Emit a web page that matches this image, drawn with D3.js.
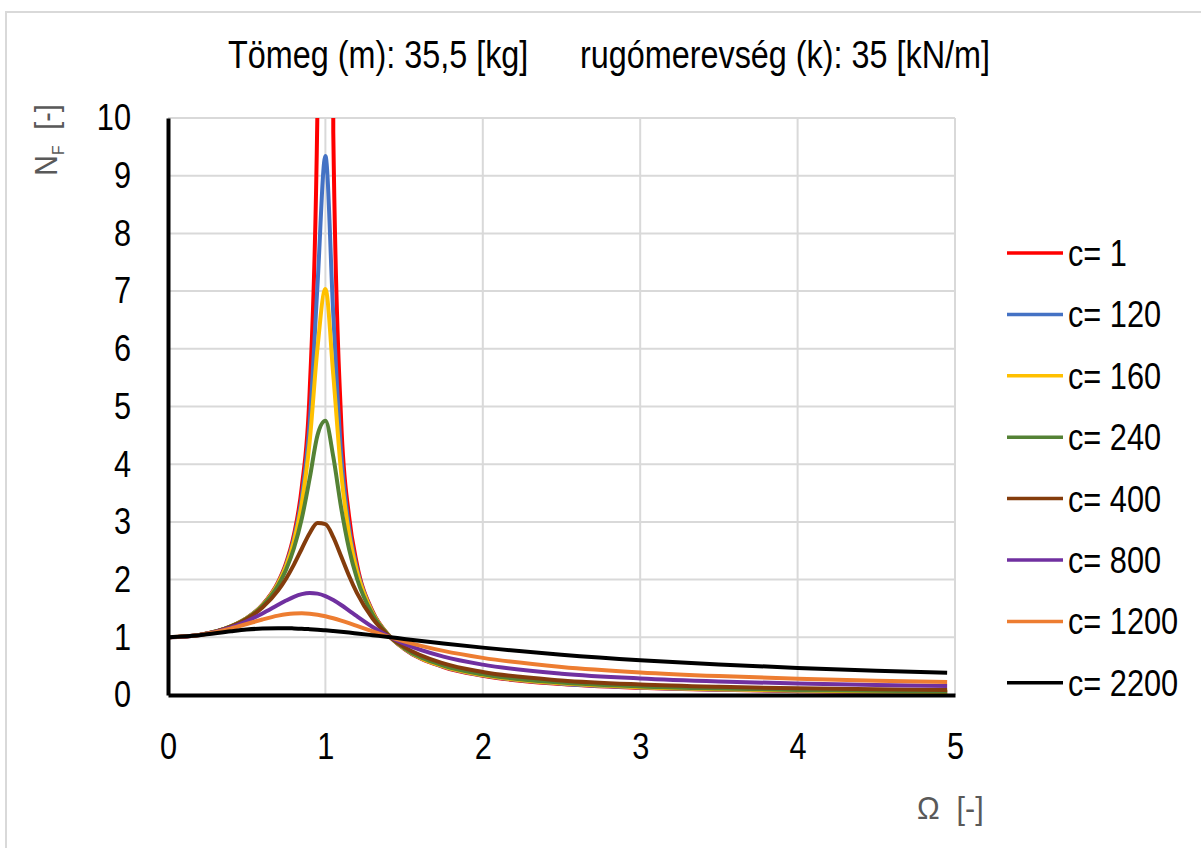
<!DOCTYPE html>
<html>
<head>
<meta charset="utf-8">
<script src="https://cdn.jsdelivr.net/npm/d3@7"></script>
<style>
  body { margin: 0; background: #fff; }
  svg text { font-family: "Liberation Sans", Arial, sans-serif; }
</style>
</head>
<body>
<div id="chart"></div>
<script>
// Omega values (x) shared by all series
const omega = [0, 0.2, 0.4, 0.5, 0.6, 0.7, 0.75, 0.8, 0.85, 0.9, 0.95, 1.0, 1.05, 1.1, 1.15, 1.2, 1.3, 1.4, 1.5, 1.75, 2.0, 2.5, 3.0, 3.5, 4.0, 4.5, 4.95];

// N_F values, one array per damping value
const nfC1 = [1, 1.042, 1.190, 1.333, 1.563, 1.961, 2.286, 2.778, 3.604, 5.263, 10.26, 1114, 9.756, 4.762, 3.101, 2.273, 1.449, 1.042, 0.800, 0.485, 0.333, 0.190, 0.125, 0.089, 0.067, 0.052, 0.043];
const nfC120 = [1, 1.042, 1.190, 1.332, 1.558, 1.945, 2.255, 2.712, 3.437, 4.711, 7.114, 9.342, 6.595, 4.177, 2.917, 2.199, 1.434, 1.041, 0.804, 0.491, 0.340, 0.197, 0.131, 0.095, 0.073, 0.058, 0.048];
const nfC160 = [1, 1.042, 1.190, 1.331, 1.554, 1.934, 2.232, 2.664, 3.323, 4.389, 6.021, 7.038, 5.548, 3.853, 2.798, 2.148, 1.423, 1.040, 0.807, 0.496, 0.345, 0.202, 0.136, 0.099, 0.077, 0.062, 0.052];
const nfC240 = [1, 1.042, 1.189, 1.327, 1.544, 1.902, 2.172, 2.543, 3.058, 3.753, 4.504, 4.751, 4.130, 3.247, 2.534, 2.024, 1.395, 1.038, 0.814, 0.510, 0.359, 0.215, 0.148, 0.111, 0.088, 0.072, 0.062];
const nfC400 = [1, 1.041, 1.186, 1.318, 1.515, 1.814, 2.016, 2.260, 2.535, 2.804, 2.980, 2.961, 2.737, 2.404, 2.066, 1.769, 1.325, 1.033, 0.835, 0.548, 0.399, 0.252, 0.182, 0.142, 0.116, 0.098, 0.087];
const nfC800 = [1, 1.041, 1.172, 1.278, 1.412, 1.563, 1.637, 1.702, 1.748, 1.768, 1.757, 1.715, 1.646, 1.560, 1.463, 1.365, 1.179, 1.020, 0.891, 0.665, 0.526, 0.370, 0.287, 0.235, 0.199, 0.173, 0.155];
const nfC1200 = [1, 1.040, 1.153, 1.230, 1.309, 1.376, 1.400, 1.414, 1.418, 1.410, 1.392, 1.365, 1.330, 1.289, 1.244, 1.197, 1.102, 1.012, 0.930, 0.764, 0.643, 0.487, 0.392, 0.329, 0.283, 0.249, 0.225];
const nfC2200 = [1, 1.036, 1.105, 1.134, 1.152, 1.158, 1.157, 1.154, 1.149, 1.141, 1.132, 1.121, 1.109, 1.096, 1.082, 1.067, 1.036, 1.005, 0.972, 0.894, 0.821, 0.699, 0.603, 0.529, 0.470, 0.422, 0.386];

const seriesNames = ["c= 1", "c= 120", "c= 160", "c= 240", "c= 400", "c= 800", "c= 1200", "c= 2200"];
const seriesValues = [nfC1, nfC120, nfC160, nfC240, nfC400, nfC800, nfC1200, nfC2200];
const seriesColors = ["#ff0000", "#4472c4", "#ffc000", "#548235", "#843c0c", "#7030a0", "#ed7d31", "#000000"];

const xTicks = [0, 1, 2, 3, 4, 5];
const yTicks = [0, 1, 2, 3, 4, 5, 6, 7, 8, 9, 10];

const width = 1201;
const height = 848;
const plot = {left: 168, right: 955, top: 118, bottom: 695};
const narrow = 0.83; // no Arial Narrow installed, so squeeze Liberation Sans

const svg = d3.select("#chart")
    .append("svg")
    .attr("width", width)
    .attr("height", height);

// helper: condensed text at a point
function narrowText(parent, x, y, str, size, color, squeeze) {
    return parent.append("text")
        .attr("transform", `translate(${x},${y}) scale(${squeeze || narrow},1)`)
        .attr("font-size", size)
        .attr("fill", color)
        .attr("xml:space", "preserve")
        .text(str);
}

// chart area border (right and bottom edges fall outside the picture)
svg.append("rect")
    .attr("x", 6)
    .attr("y", 12)
    .attr("width", 1220)
    .attr("height", 860)
    .attr("fill", "none")
    .attr("stroke", "#d9d9d9")
    .attr("stroke-width", 2);

const xScale = d3.scaleLinear().domain([0, 5]).range([plot.left, plot.right]);
const yScale = d3.scaleLinear().domain([0, 10]).range([plot.bottom, plot.top]);

// title
narrowText(svg, 228, 68, "Tömeg (m): 35,5 [kg]", 39, "#000");
narrowText(svg, 580, 68, "rugómerevség (k): 35 [kN/m]", 39, "#000");

// gridlines
svg.append("g")
    .selectAll("line")
    .data(yTicks.slice(1))
    .join("line")
    .attr("x1", plot.left)
    .attr("x2", plot.right)
    .attr("y1", d => yScale(d))
    .attr("y2", d => yScale(d))
    .attr("stroke", "#d9d9d9")
    .attr("stroke-width", 2);

svg.append("g")
    .selectAll("line")
    .data(xTicks.slice(1))
    .join("line")
    .attr("x1", d => xScale(d))
    .attr("x2", d => xScale(d))
    .attr("y1", plot.top)
    .attr("y2", plot.bottom)
    .attr("stroke", "#d9d9d9")
    .attr("stroke-width", 2);

// clip so the c=1 spike stops at the top of the plot
svg.append("clipPath")
    .attr("id", "plot-clip")
    .append("rect")
    .attr("x", plot.left)
    .attr("y", plot.top)
    .attr("width", plot.right - plot.left)
    .attr("height", plot.bottom - plot.top);

const line = d3.line()
    .x((d, i) => xScale(omega[i]))
    .y(d => yScale(d))
    .curve(d3.curveMonotoneX);

svg.append("g")
    .attr("clip-path", "url(#plot-clip)")
    .selectAll("path")
    .data(seriesValues)
    .join("path")
    .attr("fill", "none")
    .attr("stroke", (d, i) => seriesColors[i])
    .attr("stroke-width", 4)
    .attr("stroke-linejoin", "round")
    .attr("d", line);

// axes, drawn with d3 axis then restyled like the Excel original
const xAxis = svg.append("g")
    .attr("transform", `translate(0,${plot.bottom})`)
    .call(d3.axisBottom(xScale).tickValues(xTicks).tickFormat(d3.format("d")).tickSize(0).tickPadding(38));
xAxis.select(".domain").attr("stroke", "#000").attr("stroke-width", 4);
xAxis.selectAll("text")
    .attr("font-size", 37)
    .attr("fill", "#000")
    .attr("font-family", null)
    .attr("transform", `scale(${narrow},1)`);

const yAxis = svg.append("g")
    .attr("transform", `translate(${plot.left},0)`)
    .call(d3.axisLeft(yScale).tickValues(yTicks).tickSize(0));
yAxis.select(".domain").attr("stroke", "#000").attr("stroke-width", 4);
yAxis.selectAll("text")
    .attr("font-size", 37)
    .attr("fill", "#000")
    .attr("font-family", null)
    .attr("x", -37 / narrow)
    .attr("transform", `scale(${narrow},1)`);

// axis titles
const yTitle = svg.append("text")
    .attr("transform", "translate(57,140) rotate(-90) scale(0.92,1)")
    .attr("text-anchor", "middle")
    .attr("font-size", 31)
    .attr("fill", "#595959")
    .attr("xml:space", "preserve");
yTitle.append("tspan").text("N");
yTitle.append("tspan").attr("font-size", 17).attr("dy", 7).text("F");
yTitle.append("tspan").attr("dy", -7).text("  [-]");

narrowText(svg, 917, 819, "Ω  [-]", 32, "#595959", 0.95);

// legend
const legendTop = 253;
const legendStep = 61.4;
const legend = svg.append("g")
    .selectAll("g")
    .data(seriesNames)
    .join("g")
    .attr("transform", (d, i) => `translate(1007,${legendTop + i * legendStep})`);

legend.append("line")
    .attr("x1", 0)
    .attr("x2", 56)
    .attr("stroke", (d, i) => seriesColors[i])
    .attr("stroke-width", 3.5);

legend.append("text")
    .attr("transform", `translate(61,13) scale(${narrow},1)`)
    .attr("font-size", 37)
    .attr("fill", "#000")
    .text(d => d);
</script>
</body>
</html>
